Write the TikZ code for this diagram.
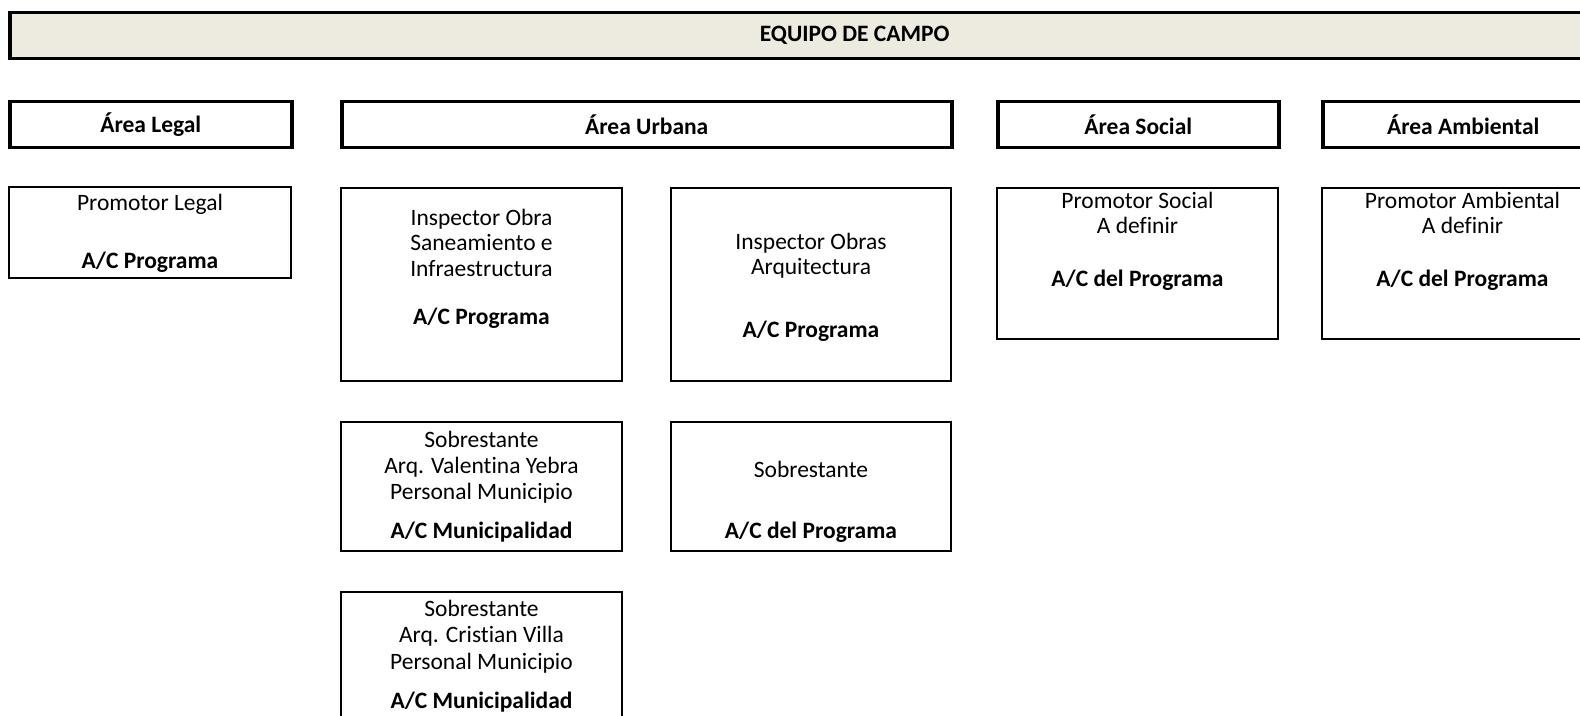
\documentclass[tikz,border=0pt]{standalone}
\usepackage{fontspec}
\setmainfont{Carlito}[Ligatures={NoCommon,NoContextual}]
\usepackage{tikz}
\usetikzlibrary{positioning}
\usepackage{xcolor}
\definecolor{bannerbg}{RGB}{237,234,224}

\begin{document}
\begin{tikzpicture}[x=0.5pt, y=-0.5pt,
    banner/.style={draw, line width=1.75pt, fill=bannerbg, anchor=north west, inner sep=0pt,
        minimum height=23pt, font=\fontsize{11.75}{12.6}\selectfont\bfseries},
    areabox/.style={draw, line width=1.75pt, anchor=north west, inner sep=0pt,
        minimum height=23pt, font=\fontsize{11.75}{12.6}\selectfont\bfseries},
    rolebox/.style={draw, line width=1pt, anchor=north west, inner sep=0pt},
    roletext/.style={inner sep=0pt, align=center, font=\fontsize{11.75}{12.6}\selectfont}]
    % Page frame
    \useasboundingbox (0,0) rectangle (1580,716);
    \clip (0,0) rectangle (1580,716);

    % Banner
    \node[banner, minimum width=845pt] (campo) at (8,11) {EQUIPO DE CAMPO};

    % Area headers
    \node[areabox, minimum width=141pt] (legal) at (8,100) {Área Legal};
    \node[areabox, minimum width=305pt] (urbana) at (340,100) {Área Urbana};
    \node[areabox, minimum width=140.5pt] (social) at (996,100) {Área Social};
    \node[areabox, minimum width=140.5pt] (ambiental) at (1321,100) {Área Ambiental};

    % Area Legal
    \node[rolebox, minimum width=141pt, minimum height=45.5pt] (promlegal) at (8,186) {};
    \node[roletext, below=3.8pt of promlegal.north] (promlegal-t)
        {Promotor Legal\\[16.6pt]\textbf{A/C Programa}};

    % Area Urbana
    \node[rolebox, minimum width=140.5pt, minimum height=96.5pt] (inspsan) at (340,187) {};
    \node[roletext, below=11pt of inspsan.north] (inspsan-t)
        {Inspector Obra\\Saneamiento e\\Infraestructura\\[11.4pt]\textbf{A/C Programa}};
    \node[rolebox, minimum width=140pt, minimum height=96.5pt] (insparq) at (670,187) {};
    \node[roletext, below=23pt of insparq.north] (insparq-t)
        {Inspector Obras\\Arquitectura\\[18.6pt]\textbf{A/C Programa}};

    \node[rolebox, minimum width=140.5pt, minimum height=64.5pt] (sobreyebra) at (340,421) {};
    \node[roletext, below=4.7pt of sobreyebra.north] (sobreyebra-t)
        {Sobrestante\\[0.5pt]Arq. Valentina Yebra\\[0.5pt]Personal Municipio\\[7pt]\textbf{A/C Municipalidad}};
    \node[rolebox, minimum width=140pt, minimum height=64.5pt] (sobreprog) at (670,421) {};
    \node[roletext, below=19.8pt of sobreprog.north] (sobreprog-t)
        {Sobrestante\\[18.1pt]\textbf{A/C del Programa}};
    \node[rolebox, minimum width=140.5pt, minimum height=64.5pt] (sobrevilla) at (340,591) {};
    \node[roletext, below=4.5pt of sobrevilla.north] (sobrevilla-t)
        {Sobrestante\\[0.5pt]Arq. Cristian Villa\\[0.5pt]Personal Municipio\\[7pt]\textbf{A/C Municipalidad}};

    % Area Social
    \node[rolebox, minimum width=140.5pt, minimum height=75.5pt] (promsocial) at (996,187) {};
    \node[roletext, below=2.3pt of promsocial.north] (promsocial-t)
        {Promotor Social\\A definir\\[14.1pt]\textbf{A/C del Programa}};

    % Area Ambiental
    \node[rolebox, minimum width=140.5pt, minimum height=75.5pt] (promamb) at (1321,187) {};
    \node[roletext, below=2.3pt of promamb.north] (promamb-t)
        {Promotor Ambiental\\A definir\\[14.1pt]\textbf{A/C del Programa}};
\end{tikzpicture}
\end{document}
